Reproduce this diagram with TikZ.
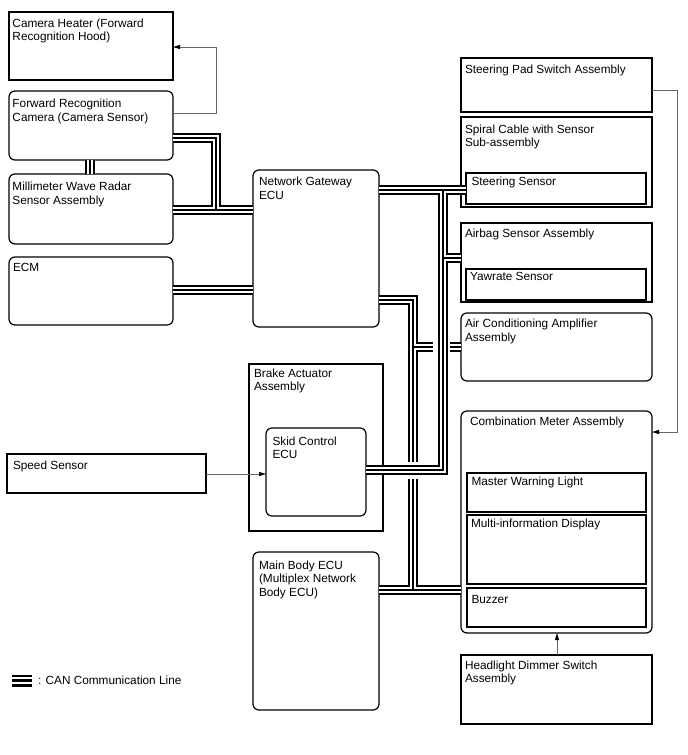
\documentclass[tikz,border=0pt]{standalone}
\usepackage{fontspec}
\setmainfont{Liberation Sans}
\usetikzlibrary{arrows.meta,calc}
\newcommand\mkbox[9]{%
 \pgfmathsetmacro\bxw{#4-#2}\pgfmathsetmacro\bxh{#5-#3}%
 \node[#6, minimum width=\bxw pt, minimum height=\bxh pt, anchor=north west] (#1) at (#2,#3) {};%
 \node[lbl] (#1-t) at ([xshift=#8pt,yshift=-#9pt]#1.north west) {#7};}
\begin{document}
\begin{tikzpicture}[x=1pt,y=-1pt,
  sq/.style={draw, line width=1.1pt, outer sep=0pt, inner sep=0pt, rectangle},
  rd/.style={sq, line width=1.2pt, rounded corners=6pt},
  lbl/.style={anchor=north west, inner sep=0pt, outer sep=0pt, align=left, font=\fontsize{11.8}{13.8}\selectfont},
  sig/.style={draw=black!60, line width=0.9pt, -{Triangle[length=7pt,width=4pt,color=black]}},
  canl/.style={line width=#1, line join=miter, line cap=butt}]
\useasboundingbox (0,0) rectangle (688,755);
% boxes
\mkbox{heat}{9}{12}{173}{80}{sq}{Camera Heater (Forward\\Recognition Hood)}{3.5}{6.5}
\mkbox{cam}{9}{91}{173}{160}{rd}{Forward Recognition\\Camera (Camera Sensor)}{3.5}{8}
\mkbox{rad}{9}{174}{173}{244}{rd}{Millimeter Wave Radar\\Sensor Assembly}{3.5}{8}
\mkbox{ecm}{9}{257}{173}{325}{rd}{ECM}{4}{6.5}
\mkbox{gw}{253}{170}{379}{327}{rd}{Network Gateway\\ECU}{6}{7}
\mkbox{pad}{461}{58}{652}{112}{sq}{Steering Pad Switch Assembly}{4}{6.5}
\mkbox{spc}{461}{117}{652}{207}{sq}{Spiral Cable with Sensor\\Sub-assembly}{4}{7.5}
\mkbox{ss}{466}{173}{646}{204}{sq}{Steering Sensor}{5.5}{3.5}
\mkbox{air}{461}{223}{652}{302}{sq}{Airbag Sensor Assembly}{4}{5.5}
\mkbox{yaw}{466}{269}{646}{300}{sq}{Yawrate Sensor}{4}{3.5}
\mkbox{ac}{461}{313}{652}{381}{rd}{Air Conditioning Amplifier\\Assembly}{4}{6}
\mkbox{brk}{249}{364}{383}{531}{sq}{Brake Actuator\\Assembly}{5}{4.5}
\mkbox{skid}{266}{428}{366}{516}{rd}{Skid Control\\ECU}{6.5}{8.5}
\mkbox{spd}{7}{454}{206}{493}{sq}{Speed Sensor}{6}{6.5}
\mkbox{mb}{253}{552}{379}{710}{rd}{Main Body ECU\\(Multiplex Network\\Body ECU)}{6}{8.5}
\mkbox{cm}{461}{411}{652}{633}{rd}{Combination Meter Assembly}{9}{6}
\mkbox{mw}{467}{473}{646}{512}{sq}{Master Warning Light}{4.5}{4}
\mkbox{md}{467}{515}{646}{584}{sq}{Multi-information Display}{4}{4}
\mkbox{bz}{467}{588}{646}{627}{sq}{Buzzer}{4.5}{7}
\mkbox{hd}{461}{655}{652}{724}{sq}{Headlight Dimmer Switch\\Assembly}{4}{5.5}
% signal lines
\coordinate (h1) at (216,113);
\coordinate (h2) at (216,47);
\draw[sig] (cam.east |- h1) -- (h1) -- (h2) -- (heat.east |- h2);
\coordinate (p1) at (677,90);
\coordinate (p2) at (677,432);
\draw[sig] (pad.east |- p1) -- (p1) -- (p2) -- (cm.east |- p2);
\coordinate (sp) at (0,474);
\draw[sig] (spd.east |- sp) -- (skid.west |- sp);
\coordinate (hx) at (557,0);
\draw[sig] (hd.north -| hx) -- (cm.south -| hx);
% CAN lines
\coordinate (c1) at (216,138);
\coordinate (c2) at (216,210);
\coordinate (cv) at (90,0);
\coordinate (g1) at (443,190);
\coordinate (g2) at (443,258);
\coordinate (g3) at (443,470);
\coordinate (k1) at (413,300);
\coordinate (k2) at (413,347);
\coordinate (k3) at (413,461.5);
\coordinate (k4) at (413,478.5);
\coordinate (k5) at (413,590);
\coordinate (a1) at (433,347);
\coordinate (a2) at (450,347);
\foreach \w/\c in {10.5pt/black,5.2pt/white,1.3pt/black}{
  \draw[canl=\w, \c] (cam.east |- c1) -- (c1) -- (c2);
  \draw[canl=\w, \c] (rad.east |- c2) -- (gw.west |- c2);
  \draw[canl=\w, \c] (ecm.east |- 0,290) -- (gw.west |- 0,290);
  \draw[canl=\w, \c] (cam.south -| cv) -- (rad.north -| cv);
  \draw[canl=\w, \c] (gw.east |- g1) -- (ss.west |- g1);
  \draw[canl=\w, \c] (g1) -- (g3) -- (skid.east |- g3);
  \draw[canl=\w, \c] (g2) -- (air.west |- g2);
  \draw[canl=\w, \c] (gw.east |- k1) -- (k1) -- (k3);
  \draw[canl=\w, \c] (k2) -- (a1);
  \draw[canl=\w, \c] (a2) -- (ac.west |- a2);
  \draw[canl=\w, \c] (k4) -- (k5);
  \draw[canl=\w, \c] (mb.east |- k5) -- (cm.west |- k5);
}
% legend
\coordinate (l1) at (12,676);
\coordinate (l2) at (32,676);
\foreach \d in {0,4.6,9.2}{
  \draw[line width=2.6pt] ($(l1)+(0,\d)$) -- ($(l2)+(0,\d)$);
}
\node[lbl, anchor=west] (leg) at (38,680) {: CAN Communication Line};
\end{tikzpicture}
\end{document}
